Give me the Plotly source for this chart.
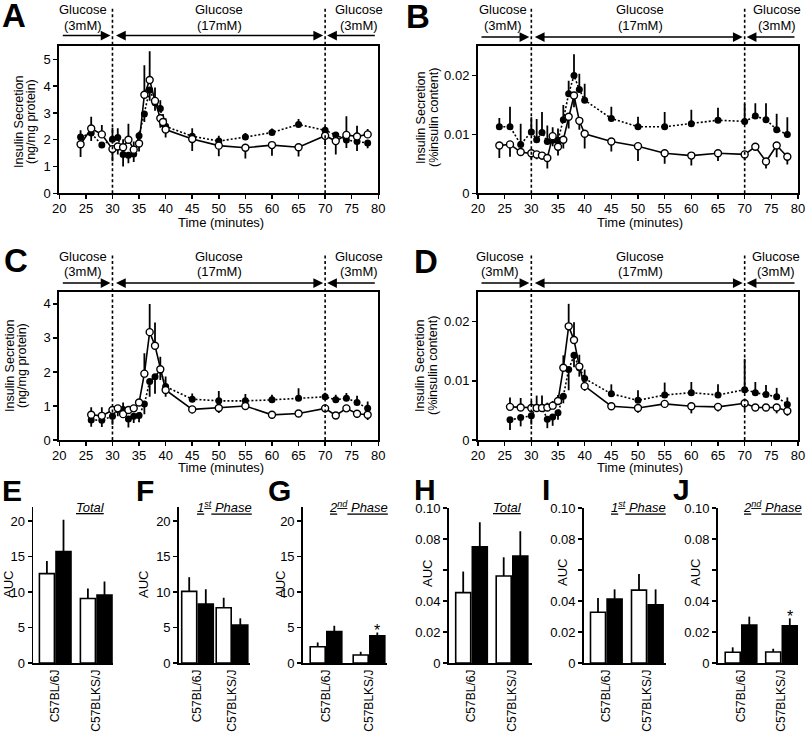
import plotly.graph_objects as go

W, H = 807, 734
def X(px): return px / W
def Y(py): return 1 - py / H

FONT = "Liberation Sans, Arial, Helvetica, sans-serif"

# ---------------- data ----------------
switch_times = [30, 70]
time_range = [20, 80]
xticks = [20, 25, 30, 35, 40, 45, 50, 55, 60, 65, 70, 75, 80]
phase_line1 = ["Glucose", "Glucose", "Glucose"]
phase_line2 = ["(3mM)", "(17mM)", "(3mM)"]

tA = [24, 26, 28, 30, 31, 32, 33, 34, 35, 36, 37, 38, 39, 39.5, 40, 45, 50, 55, 60, 65, 70, 72, 74, 76, 78]
A_open = [1.83, 2.42, 2.20, 1.65, 1.75, 1.72, 2.00, 1.63, 1.86, 3.68, 4.23, 3.45, 2.80, 2.66, 2.38,
          2.03, 1.78, 1.70, 1.80, 1.72, 2.15, 1.95, 2.18, 2.12, 2.20]
A_open_sem = [0.47, 0.44, 0.35, 0.45, 0.30, 0.30, 0.60, 0.30, 0.30, 1.10, 1.07, 0.50, 0.35, 0.30, 0.30,
              0.45, 0.40, 0.40, 0.40, 0.35, 0.35, 0.50, 0.70, 0.40, 0.20]
A_fill = [2.10, 2.25, 1.80, 2.02, 2.08, 1.45, 1.42, 1.47, 2.15, 2.96, 3.86, 3.38, 3.17, 2.60, 2.50,
          2.13, 1.95, 2.10, 2.27, 2.57, 2.35, 2.18, 1.99, 1.93, 1.88]
A_fill_sem = [0.25, 0.30, 0.10, 0.43, 0.35, 0.45, 0.30, 0.30, 0.15, 0.30, 0.40, 0.30, 0.30, 0.30, 0.30,
              0.30, 0.20, 0.15, 0.15, 0.20, 0.15, 0.10, 0.30, 0.35, 0.20]

tB = [24, 26, 28, 30, 31, 32, 33, 34, 35, 36, 37, 38, 39, 40, 45, 50, 55, 60, 65, 70, 72, 74, 76, 78]
B_fill = [0.0113, 0.0113, 0.0083, 0.0104, 0.0091, 0.0103, 0.0088, 0.0090, 0.0090, 0.0125, 0.0169, 0.0200,
          0.0176, 0.0158, 0.0127, 0.0113, 0.0113, 0.0118, 0.0124, 0.0122, 0.0131, 0.0125, 0.0108, 0.0100]
B_fill_sem = [0.0015, 0.0034, 0.0035, 0.0025, 0.0035, 0.0035, 0.0027, 0.0010, 0.0020, 0.0025, 0.0022, 0.0036,
              0.0027, 0.0028, 0.0020, 0.0017, 0.0025, 0.0024, 0.0021, 0.0030, 0.0022, 0.0028, 0.0027, 0.0029]
B_open = [0.0081, 0.0083, 0.0070, 0.0068, 0.0066, 0.0064, 0.0060, 0.0097, 0.0079, 0.0091, 0.0130, 0.0166,
          0.0123, 0.0101, 0.0088, 0.0080, 0.0068, 0.0064, 0.0068, 0.0066, 0.0079, 0.0054, 0.0081, 0.0062]
B_open_sem = [0.0021, 0.0021, 0.0005, 0.0010, 0.0008, 0.0007, 0.0018, 0.0015, 0.0015, 0.0015, 0.0020, 0.0020,
              0.0015, 0.0025, 0.0017, 0.0025, 0.0018, 0.0017, 0.0013, 0.0010, 0.0005, 0.0012, 0.0020, 0.0013]

tC = [26, 28, 30, 31, 32, 33, 34, 35, 36, 37, 38, 39, 40, 45, 50, 55, 60, 65, 70, 72, 74, 76, 78]
C_open = [0.74, 0.71, 0.88, 0.93, 0.76, 0.88, 0.93, 1.10, 1.95, 3.17, 2.77, 2.08, 1.47, 0.90, 0.94,
          1.00, 0.74, 0.78, 0.93, 0.72, 0.93, 0.77, 0.74]
C_open_sem = [0.22, 0.25, 0.10, 0.10, 0.10, 0.10, 0.10, 0.10, 0.60, 0.83, 0.68, 0.37, 0.20, 0.12, 0.15,
              0.12, 0.12, 0.10, 0.10, 0.08, 0.10, 0.12, 0.15]
C_fill = [0.59, 0.58, 0.70, 0.90, 0.90, 0.62, 0.70, 0.72, 1.06, 1.72, 1.86, 2.06, 1.57, 1.20, 1.15,
          1.15, 1.18, 1.23, 1.27, 1.18, 1.23, 1.10, 0.93]
C_fill_sem = [0.20, 0.20, 0.25, 0.20, 0.20, 0.25, 0.20, 0.20, 0.30, 0.45, 0.50, 0.30, 0.30, 0.17, 0.29,
              0.20, 0.15, 0.29, 0.12, 0.15, 0.15, 0.20, 0.20]

tD = [26, 28, 30, 31, 32, 33, 34, 35, 36, 37, 38, 39, 40, 45, 50, 55, 60, 65, 70, 72, 74, 76, 78]
D_open = [0.0056, 0.0055, 0.0054, 0.0054, 0.0054, 0.0055, 0.0058, 0.0066, 0.0122, 0.0192, 0.0169, 0.0124,
          0.0091, 0.0057, 0.0054, 0.0061, 0.0057, 0.0056, 0.0062, 0.0055, 0.0055, 0.0055, 0.0049]
D_open_sem = [0.0016, 0.0016, 0.0012, 0.0006, 0.0006, 0.0008, 0.0008, 0.0010, 0.0021, 0.0038, 0.0030, 0.0020,
              0.0008, 0.0006, 0.0008, 0.0006, 0.0012, 0.0008, 0.0011, 0.0006, 0.0006, 0.0010, 0.0008]
D_fill = [0.0034, 0.0038, 0.0041, 0.0055, 0.0055, 0.0035, 0.0039, 0.0046, 0.0074, 0.0119, 0.0143, 0.0122,
          0.0104, 0.0078, 0.0067, 0.0076, 0.0080, 0.0076, 0.0085, 0.0080, 0.0077, 0.0073, 0.0060]
D_fill_sem = [0.0017, 0.0015, 0.0015, 0.0020, 0.0020, 0.0015, 0.0015, 0.0012, 0.0012, 0.0035, 0.0020, 0.0015,
              0.0015, 0.0016, 0.0017, 0.0021, 0.0018, 0.0018, 0.0052, 0.0018, 0.0016, 0.0015, 0.0012]

strains = ["C57BL/6J", "C57BLKS/J"]
E_white = [12.6, 9.1];      E_white_sem = [1.8, 1.4]
E_black = [15.7, 9.6];      E_black_sem = [4.5, 1.9]
F_white = [10.1, 7.8];      F_white_sem = [2.0, 1.4]
F_black = [8.3, 5.35];      F_black_sem = [2.1, 0.95]
G_white = [2.3, 1.13];      G_white_sem = [0.6, 0.45]
G_black = [4.45, 3.85];     G_black_sem = [0.8, 0.45]
H_white = [0.0454, 0.0561]; H_white_sem = [0.0136, 0.0121]
H_black = [0.075, 0.069];   H_black_sem = [0.0158, 0.016]
I_white = [0.0327, 0.047];  I_white_sem = [0.0093, 0.0104]
I_black = [0.0413, 0.0376]; I_black_sem = [0.0062, 0.0099]
J_white = [0.0069, 0.0071]; J_white_sem = [0.0032, 0.0021]
J_black = [0.0245, 0.024];  J_black_sem = [0.0054, 0.0048]
G_sig = [False, True]
J_sig = [False, True]

auc_ng_ticks = [0, 5, 10, 15, 20]
auc_pct_ticks = [0, 0.02, 0.04, 0.06, 0.08, 0.10]
auc_pct_text = ["0", "0.02", "0.04", "", "0.08", "0.10"]

# ---------------- helpers ----------------
def split_err(vals, other, sem):
    up = [s if v >= o else 0 for v, o, s in zip(vals, other, sem)]
    dn = [0 if v >= o else s for v, o, s in zip(vals, other, sem)]
    return up, dn

def ids(n):
    if n == 1:
        return "x", "y", "xaxis", "yaxis"
    return f"x{n}", f"y{n}", f"xaxis{n}", f"yaxis{n}"

fig = go.Figure()
ann = []
shapes = []
axes = {}

time_panels = [
    dict(n=1, letter="A", t=tA, op=A_open, ops=A_open_sem, fi=A_fill, fis=A_fill_sem,
         yr=[0, 5.5], ytv=[0, 1, 2, 3, 4, 5], ytt=["0", "1", "2", "3", "4", "5"],
         xl=59.3, xr=378.3, yb=193.3, ytop=46, dash_top=7, arrow_y=35.5, lab_y=(10, 25),
         lab_x=(83, 219, 359), yt_x=(19, 31), yt_y=122, xt_y=222.5,
         ytitle=("Insulin Secretion", "(ng/mg protein)"), let_xy=(0, 15)),
    dict(n=2, letter="B", t=tB, op=B_open, ops=B_open_sem, fi=B_fill, fis=B_fill_sem,
         yr=[0, 0.025], ytv=[0, 0.01, 0.02], ytt=["0", "0.01", "0.02"],
         xl=478, xr=798, yb=193.3, ytop=46, dash_top=8, arrow_y=37, lab_y=(10, 25),
         lab_x=(503, 640, 777), yt_x=(421, 434), yt_y=118, xt_y=222.5,
         ytitle=("Insulin Secretion", "(%insulin content)"), let_xy=(404, 16.5)),
    dict(n=3, letter="C", t=tC, op=C_open, ops=C_open_sem, fi=C_fill, fis=C_fill_sem,
         yr=[0, 4.35], ytv=[0, 1, 2, 3, 4], ytt=["0", "1", "2", "3", "4"],
         xl=59.3, xr=378.3, yb=440, ytop=292, dash_top=253, arrow_y=283, lab_y=(256, 271.5),
         lab_x=(83, 219, 359), yt_x=(10, 22), yt_y=366, xt_y=467.5,
         ytitle=("Insulin Secretion", "(ng/mg protein)"), let_xy=(2, 260)),
    dict(n=4, letter="D", t=tD, op=D_open, ops=D_open_sem, fi=D_fill, fis=D_fill_sem,
         yr=[0, 0.025], ytv=[0, 0.01, 0.02], ytt=["0", "0.01", "0.02"],
         xl=478, xr=798, yb=440, ytop=292, dash_top=255, arrow_y=283, lab_y=(256, 271.5),
         lab_x=(500, 640, 776), yt_x=(420, 433), yt_y=366, xt_y=467.5,
         ytitle=("Insulin Secretion", "(%insulin content)"), let_xy=(412, 261)),
]

for p in time_panels:
    xs, ys, xk, yk = ids(p["n"])
    fu, fd = split_err(p["fi"], p["op"], p["fis"])
    ou, od = split_err(p["op"], p["fi"], p["ops"])
    fig.add_trace(go.Scatter(
        x=p["t"], y=p["fi"], xaxis=xs, yaxis=ys, mode="lines+markers", showlegend=False,
        line=dict(color="black", width=1.6, dash="2px,2px"),
        marker=dict(symbol="circle", size=7, color="black"),
        error_y=dict(type="data", symmetric=False, array=fu, arrayminus=fd,
                     width=0, thickness=1.8, color="black")))
    fig.add_trace(go.Scatter(
        x=p["t"], y=p["op"], xaxis=xs, yaxis=ys, mode="lines+markers", showlegend=False,
        line=dict(color="black", width=1.6),
        marker=dict(symbol="circle", size=7, color="white", line=dict(color="black", width=1.4)),
        error_y=dict(type="data", symmetric=False, array=ou, arrayminus=od,
                     width=0, thickness=1.8, color="black")))
    axes[xk] = dict(domain=[X(p["xl"]), X(p["xr"])], anchor=ys, range=time_range, automargin=False,
                    tickvals=xticks, ticks="outside", ticklen=4, tickwidth=1.5, tickcolor="black",
                    ticklabelstandoff=-2,
                    showline=True, linewidth=2, linecolor="black", mirror=True,
                    showgrid=False, zeroline=False, tickfont=dict(size=13, color="black", family=FONT))
    axes[yk] = dict(domain=[Y(p["yb"]), Y(p["ytop"])], anchor=xs, range=p["yr"], automargin=False,
                    tickvals=p["ytv"], ticktext=p["ytt"], ticks="outside", ticklen=4, tickwidth=1.5,
                    tickcolor="black", showline=True, linewidth=2, linecolor="black", mirror=True,
                    showgrid=False, zeroline=False, tickfont=dict(size=13, color="black", family=FONT))
    for t in switch_times:
        shapes.append(dict(type="line", xref=xs, yref="paper", x0=t, x1=t,
                           y0=Y(p["yb"]), y1=Y(p["dash_top"]), layer="above",
                           line=dict(color="black", width=1.6, dash="3px,2.5px")))
    arrows = [(switch_times[0], time_range[0], "end"),
              (switch_times[1], switch_times[0], "end+start"),
              (switch_times[1], time_range[1], "end")]
    for head, tail, side in arrows:
        ann.append(dict(x=head, y=Y(p["arrow_y"]), xref=xs, yref="paper", ax=tail, ay=0,
                        axref=xs, ayref="pixel", text="", showarrow=True, arrowhead=2,
                        arrowsize=1.5, arrowwidth=1.3, arrowcolor="black", arrowside=side,
                        standoff=2, startstandoff=2))
    for l1, l2, cx in zip(phase_line1, phase_line2, p["lab_x"]):
        for txt, yy in ((l1, p["lab_y"][0]), (l2, p["lab_y"][1])):
            ann.append(dict(x=X(cx), y=Y(yy), xref="paper", yref="paper", text=txt,
                            showarrow=False, xanchor="center", yanchor="middle",
                            font=dict(size=13, color="black", family=FONT)))
    for txt, xx in zip(p["ytitle"], p["yt_x"]):
        ann.append(dict(x=X(xx), y=Y(p["yt_y"]), xref="paper", yref="paper", text=txt,
                        textangle=-90, showarrow=False, xanchor="center", yanchor="middle",
                        font=dict(size=12.5, color="black", family=FONT)))
    ann.append(dict(x=X((p["xl"] + p["xr"]) / 2 + 2), y=Y(p["xt_y"]), xref="paper", yref="paper",
                    text="Time (minutes)", showarrow=False, xanchor="center", yanchor="middle",
                    font=dict(size=13, color="black", family=FONT)))
    ann.append(dict(x=X(p["let_xy"][0]), y=Y(p["let_xy"][1]), xref="paper", yref="paper",
                    text="<b>%s</b>" % p["letter"], showarrow=False, xanchor="left", yanchor="middle",
                    font=dict(size=33, color="black", family=FONT)))

bar_panels = [
    dict(n=5, letter="E", w=E_white, ws=E_white_sem, b=E_black, bs=E_black_sem, sig=None,
         title="<i><u>Total</u></i>", tx=90, yr=[0, 22], ytv=auc_ng_ticks, ytt=None,
         al=33.3, ar=113, c0=55.2, c1=96.2, top=507, let_xy=(0, 490), auc=(8, 585)),
    dict(n=6, letter="F", w=F_white, ws=F_white_sem, b=F_black, bs=F_black_sem, sig=None,
         title="<i><u>1<sup>st</sup> Phase</u></i>", tx=224, yr=[0, 22], ytv=auc_ng_ticks, ytt=None,
         al=179, ar=250, c0=197.5, c1=232, top=507, let_xy=(134, 490), auc=(143, 585)),
    dict(n=7, letter="G", w=G_white, ws=G_white_sem, b=G_black, bs=G_black_sem, sig=G_sig,
         title="<i><u>2<sup>nd</sup> Phase</u></i>", tx=358, yr=[0, 22], ytv=auc_ng_ticks, ytt=None,
         al=303, ar=387, c0=326, c1=369, top=507, let_xy=(266, 490), auc=(280, 585)),
    dict(n=8, letter="H", w=H_white, ws=H_white_sem, b=H_black, bs=H_black_sem, sig=None,
         title="<i><u>Total</u></i>", tx=507, yr=[0, 0.10], ytv=auc_pct_ticks, ytt=auc_pct_text,
         al=449, ar=532, c0=471.5, c1=512, top=508, let_xy=(412, 489), auc=(427, 573)),
    dict(n=9, letter="I", w=I_white, ws=I_white_sem, b=I_black, bs=I_black_sem, sig=None,
         title="<i><u>1<sup>st</sup> Phase</u></i>", tx=638, yr=[0, 0.10], ytv=auc_pct_ticks, ytt=auc_pct_text,
         al=584, ar=666, c0=606.3, c1=647.3, top=508, let_xy=(540, 489), auc=(562, 573)),
    dict(n=10, letter="J", w=J_white, ws=J_white_sem, b=J_black, bs=J_black_sem, sig=J_sig,
         title="<i><u>2<sup>nd</sup> Phase</u></i>", tx=772, yr=[0, 0.10], ytv=auc_pct_ticks, ytt=auc_pct_text,
         al=718, ar=798, c0=741, c1=781.5, top=508, let_xy=(671, 489), auc=(695, 573)),
]

for p in bar_panels:
    xs, ys, xk, yk = ids(p["n"])
    k = p["c1"] - p["c0"]
    bw = 15.0 / k
    gap = 1.6 / k
    for vals, sems, col, off in ((p["w"], p["ws"], "white", -bw - gap / 2),
                                 (p["b"], p["bs"], "black", gap / 2)):
        fig.add_trace(go.Bar(
            x=strains, y=vals, xaxis=xs, yaxis=ys, width=bw, offset=off, showlegend=False,
            marker=dict(color=col, line=dict(color="black", width=1.6)),
            error_y=dict(type="data", symmetric=False, array=sems, arrayminus=[0] * len(sems),
                         width=0, thickness=1.8, color="black")))
    axes[xk] = dict(domain=[X(p["al"]), X(p["ar"])], anchor=ys, type="category", automargin=False,
                    range=[(p["al"] - p["c0"]) / k, (p["ar"] - p["c0"]) / k],
                    showline=True, linewidth=1.8, linecolor="black", ticks="", tickangle=-90,
                    showgrid=False, zeroline=False, tickfont=dict(size=12, color="black", family=FONT))
    yax = dict(domain=[Y(663), Y(p["top"])], anchor=xs, range=p["yr"], tickvals=p["ytv"],
               automargin=False, ticks="outside", ticklen=4, tickwidth=1.5, tickcolor="black",
               showline=True, linewidth=1.8, linecolor="black", showgrid=False, zeroline=False,
               tickfont=dict(size=13, color="black", family=FONT))
    if p["ytt"] is not None:
        yax["ticktext"] = p["ytt"]
    axes[yk] = yax
    ann.append(dict(x=X(p["tx"]), y=Y(507), xref="paper", yref="paper", text=p["title"],
                    showarrow=False, xanchor="center", yanchor="middle",
                    font=dict(size=13, color="black", family=FONT)))
    ann.append(dict(x=X(p["auc"][0]), y=Y(p["auc"][1]), xref="paper", yref="paper", text="AUC",
                    textangle=-90, showarrow=False, xanchor="center", yanchor="middle",
                    font=dict(size=13, color="black", family=FONT)))
    ann.append(dict(x=X(p["let_xy"][0]), y=Y(p["let_xy"][1]), xref="paper", yref="paper",
                    text="<b>%s</b>" % p["letter"], showarrow=False, xanchor="left", yanchor="middle",
                    font=dict(size=30, color="black", family=FONT)))
    if p["sig"]:
        for i, s in enumerate(p["sig"]):
            if s:
                ann.append(dict(x=i + gap / 2 + bw / 2, y=p["b"][i] + p["bs"][i], xref=xs, yref=ys,
                                text="*", showarrow=False, xanchor="center", yanchor="middle",
                                yshift=2, font=dict(size=16, color="black", family=FONT)))

fig.update_layout(
    width=W, height=H, margin=dict(l=0, r=0, t=0, b=0, autoexpand=False),
    paper_bgcolor="white", plot_bgcolor="white", showlegend=False,
    barmode="overlay", font=dict(family=FONT, color="black"),
    annotations=ann, shapes=shapes, **axes)

fig.write_html("out.html", config={"displayModeBar": False, "staticPlot": True},
               post_script="document.body.style.margin='0px';document.body.style.overflow='hidden';")
